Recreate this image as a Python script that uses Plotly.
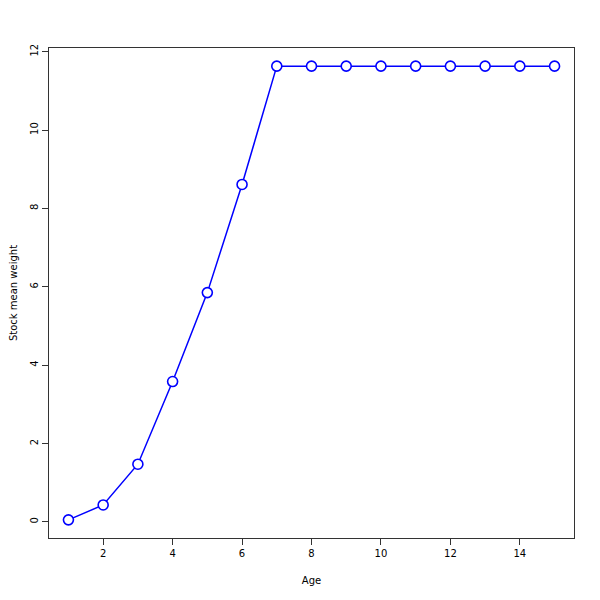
import plotly.graph_objects as go

ages = [1, 2, 3, 4, 5, 6, 7, 8, 9, 10, 11, 12, 13, 14, 15]
weights = [0.05, 0.43, 1.47, 3.58, 5.85, 8.61, 11.63, 11.63, 11.63, 11.63, 11.63, 11.63, 11.63, 11.63, 11.63]
x_ticks = [2, 4, 6, 8, 10, 12, 14]
y_ticks = [0, 2, 4, 6, 8, 10, 12]

fig = go.Figure()
fig.add_trace(go.Scatter(
    x=ages, y=weights, mode="lines+markers",
    line=dict(color="#0000ff", width=1.5),
    marker=dict(symbol="circle", size=10, color="white",
                line=dict(color="#0000ff", width=1.6)),
    showlegend=False,
))

xr = (1 - 0.04 * 14, 15 + 0.04 * 14)
ymin, ymax = min(weights), max(weights)
d = (ymax - ymin) * 0.04
yr = (ymin - d, ymax + d)

axis_common = dict(
    showgrid=False, zeroline=False, showline=True, linecolor="#333333",
    linewidth=1, mirror=True, ticks="outside", ticklen=6, tickwidth=1,
    automargin=False,
    tickcolor="#333333", tickfont=dict(family="DejaVu Sans", size=10, color="#000"),
)
fig.update_layout(
    width=600, height=600,
    margin=dict(l=41, r=34, t=40, b=70),
    paper_bgcolor="white", plot_bgcolor="white",
    xaxis=dict(range=list(xr), tickvals=x_ticks, **axis_common,
               title=dict(text="Age", font=dict(family="DejaVu Sans", size=10, color="#000"), standoff=18)),
    yaxis=dict(range=list(yr), tickvals=y_ticks, tickangle=-90, **axis_common,
               title=dict(text="Stock mean weight", font=dict(family="DejaVu Sans", size=10, color="#000"), standoff=18)),
)
fig.write_html("out.html")
